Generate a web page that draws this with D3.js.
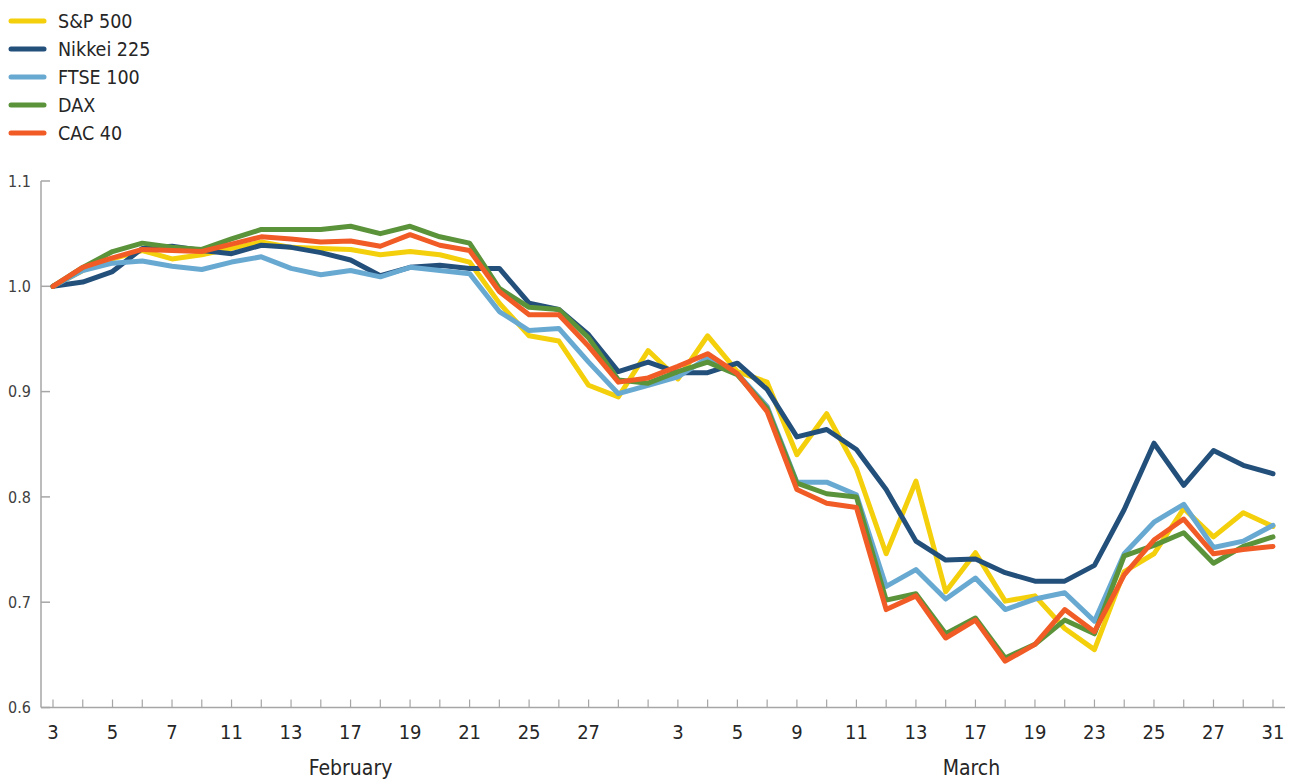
<!DOCTYPE html>
<html>
<head>
<meta charset="utf-8" />
<title>Stock indices, February - March 2020</title>
<script src="https://d3js.org/d3.v7.min.js"></script>
<style type="text/css">
	body { margin: 0; background: #fff; }
	svg text { font-family: "Liberation Sans Narrow", "DejaVu Sans Condensed", sans-serif; fill: #262626; }
</style>
</head>
<body>
<script>
	// trading days, Feb 3 to Mar 31 2020
	const days = [3, 4, 5, 6, 7, 10, 11, 12, 13, 14, 17, 18, 19, 20, 21, 24, 25, 26, 27, 28, 2,
		3, 4, 5, 6, 9, 10, 11, 12, 13, 16, 17, 18, 19, 20, 23, 24, 25, 26, 27, 30, 31];
	const tickLabels = ["3", "", "5", "", "7", "", "11", "", "13", "", "17", "", "19", "", "21", "", "25", "", "27", "", "",
		"3", "", "5", "", "9", "", "11", "", "13", "", "17", "", "19", "", "23", "", "25", "", "27", "", "31"];
	const months = [
		{name: "February", first: 0, last: 20},
		{name: "March", first: 21, last: 41}
	];
	const yTicks = [0.6, 0.7, 0.8, 0.9, 1.0, 1.1];

	const sp500 = [1.000, 1.015, 1.026, 1.034, 1.026, 1.030, 1.036, 1.042, 1.037, 1.036, 1.035, 1.030, 1.033, 1.030, 1.023,
		0.984, 0.953, 0.948, 0.906, 0.895, 0.939, 0.912, 0.953, 0.919, 0.909, 0.840, 0.879, 0.827,
		0.746, 0.815, 0.710, 0.747, 0.701, 0.706, 0.675, 0.655, 0.729, 0.746, 0.789, 0.762, 0.785, 0.772];
	const nikkei = [1.000, 1.004, 1.014, 1.036, 1.038, 1.034, 1.031, 1.039, 1.037, 1.032, 1.025, 1.010, 1.018, 1.020, 1.017,
		1.017, 0.984, 0.978, 0.954, 0.919, 0.928, 0.918, 0.918, 0.927, 0.902, 0.857, 0.864, 0.845,
		0.807, 0.758, 0.740, 0.741, 0.728, 0.720, 0.720, 0.735, 0.788, 0.851, 0.811, 0.844, 0.830, 0.822];
	const ftse = [1.000, 1.015, 1.022, 1.024, 1.019, 1.016, 1.023, 1.028, 1.017, 1.011, 1.015, 1.009, 1.018, 1.015, 1.012,
		0.976, 0.958, 0.960, 0.928, 0.898, 0.906, 0.914, 0.932, 0.917, 0.886, 0.814, 0.814, 0.802,
		0.715, 0.731, 0.703, 0.723, 0.693, 0.703, 0.709, 0.682, 0.746, 0.776, 0.793, 0.752, 0.758, 0.773];
	const dax = [1.000, 1.018, 1.033, 1.041, 1.037, 1.035, 1.045, 1.054, 1.054, 1.054, 1.057, 1.050, 1.057, 1.047, 1.041,
		0.998, 0.980, 0.978, 0.951, 0.911, 0.908, 0.919, 0.928, 0.916, 0.884, 0.813, 0.803, 0.800,
		0.702, 0.708, 0.670, 0.685, 0.647, 0.660, 0.683, 0.670, 0.744, 0.754, 0.766, 0.737, 0.753, 0.762];
	const cac = [1.000, 1.018, 1.027, 1.035, 1.034, 1.033, 1.040, 1.047, 1.045, 1.042, 1.043, 1.038, 1.049, 1.039, 1.034,
		0.995, 0.973, 0.973, 0.943, 0.909, 0.913, 0.924, 0.936, 0.917, 0.881, 0.807, 0.794, 0.790,
		0.693, 0.706, 0.666, 0.683, 0.644, 0.660, 0.693, 0.672, 0.726, 0.759, 0.779, 0.746, 0.750, 0.753];

	const series = [
		{name: "S&P 500", values: sp500, color: "#F4CF0B"},
		{name: "Nikkei 225", values: nikkei, color: "#234F7B"},
		{name: "FTSE 100", values: ftse, color: "#68A9D2"},
		{name: "DAX", values: dax, color: "#5B933B"},
		{name: "CAC 40", values: cac, color: "#F15B25"}
	];

	const width = 1289;
	const height = 781;
	const axisColor = "#a6a6a6";

	const svg = d3.select("body")
		.append("svg")
		.attr("width", width)
		.attr("height", height);

	const x = d3.scalePoint()
		.domain(d3.range(days.length))
		.range([53, 1273]);

	const y = d3.scaleLinear()
		.domain([0.6, 1.1])
		.range([707.5, 181]);

	// y axis
	svg.append("line")
		.attr("x1", 41).attr("x2", 41)
		.attr("y1", y(1.1)).attr("y2", y(0.6))
		.attr("stroke", axisColor).attr("stroke-width", 1.5);
	svg.selectAll(".ytick")
		.data(yTicks)
		.enter()
		.append("line")
		.attr("x1", 41).attr("x2", 50)
		.attr("y1", d => y(d)).attr("y2", d => y(d))
		.attr("stroke", axisColor).attr("stroke-width", 1.5);
	svg.selectAll(".ylabel")
		.data(yTicks)
		.enter()
		.append("text")
		.attr("x", 31)
		.attr("y", d => y(d))
		.attr("dy", "0.35em")
		.attr("text-anchor", "end")
		.style("font-size", "16px")
		.style("fill", "#404040")
		.text(d => d3.format(".1f")(d));

	// x axis
	svg.append("line")
		.attr("x1", 41).attr("x2", 1285)
		.attr("y1", y(0.6)).attr("y2", y(0.6))
		.attr("stroke", axisColor).attr("stroke-width", 1.5);
	svg.selectAll(".xtick")
		.data(d3.range(days.length))
		.enter()
		.append("line")
		.attr("x1", d => x(d)).attr("x2", d => x(d))
		.attr("y1", y(0.6)).attr("y2", y(0.6) - 8)
		.attr("stroke", axisColor).attr("stroke-width", 1.2);
	svg.selectAll(".xlabel")
		.data(d3.range(days.length).filter(i => tickLabels[i] !== ""))
		.enter()
		.append("text")
		.attr("x", d => x(d))
		.attr("y", 739)
		.attr("text-anchor", "middle")
		.style("font-size", "20px")
		.text(d => tickLabels[d]);
	svg.selectAll(".month")
		.data(months)
		.enter()
		.append("text")
		.attr("x", d => (x(d.first) + x(d.last)) / 2 - (d.name === "March" ? 4 : 0))
		.attr("y", 775)
		.attr("text-anchor", "middle")
		.style("font-size", "21px")
		.text(d => d.name);

	// lines
	const line = d3.line()
		.x((d, i) => x(i))
		.y(d => y(d));

	svg.selectAll(".series")
		.data(series)
		.enter()
		.append("path")
		.attr("d", d => line(d.values))
		.attr("fill", "none")
		.attr("stroke", d => d.color)
		.attr("stroke-width", 5)
		.attr("stroke-linejoin", "round")
		.attr("stroke-linecap", "round");

	// legend
	const legend = svg.selectAll(".legend")
		.data(series)
		.enter()
		.append("g")
		.attr("transform", (d, i) => "translate(0," + (21 + i * 28) + ")");
	legend.append("line")
		.attr("x1", 11).attr("x2", 44)
		.attr("y1", 0).attr("y2", 0)
		.attr("stroke", d => d.color)
		.attr("stroke-width", 5)
		.attr("stroke-linecap", "round");
	legend.append("text")
		.attr("x", 58)
		.attr("dy", "0.35em")
		.style("font-size", "19.5px")
		.text(d => d.name);
</script>
</body>
</html>
